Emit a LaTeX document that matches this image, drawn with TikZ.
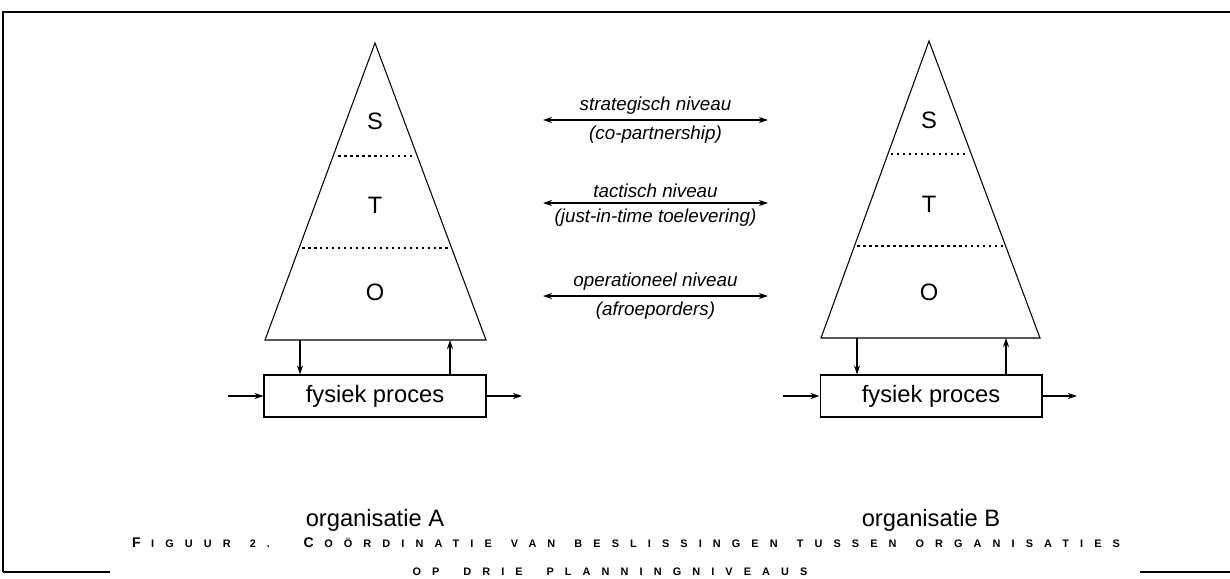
\documentclass[tikz,border=0pt]{standalone}
\usepackage{fontspec}
\setmainfont{Liberation Sans}
\usepackage{tikz}
\usetikzlibrary{arrows.meta,positioning,calc}
\newfontfamily\capfont[LetterSpace=102]{Liberation Sans Bold}
\newcommand{\capbig}{\fontsize{8}{9}\selectfont}
\newcommand{\capsmall}{\fontsize{6.2}{7}\selectfont}
\newcommand{\capinit}[1]{{\capbig #1}\kern 6pt}

\begin{document}
\begin{tikzpicture}[x=0.02cm, y=-0.02cm, line width=0.6pt,
  every node/.style={font=\fontsize{13.5}{16}\selectfont},
  procbox/.style={draw, minimum width=4.44cm, minimum height=0.84cm, inner sep=0pt},
  lvlline/.style={line width=1.4pt, dash pattern=on 1.4pt off 2pt},
  flow/.style={-{Stealth[length=1.8mm,width=1.2mm]}},
  link/.style={{Stealth[length=1.8mm,width=1.2mm]}-{Stealth[length=1.8mm,width=1.2mm]}},
  lbl/.style={font=\fontsize{10.7}{12}\selectfont\itshape, inner sep=1pt}]
\useasboundingbox (0,0) rectangle (1230,578);
% frame
\draw (3,572) -- (3,12) -- (1230,12);
\draw (3,572) -- (110,572);
\draw (1140,572) -- (1230,572);
% organisatie A
\coordinate (A-top) at (375,43);
\coordinate (A-bl) at (265,340);
\coordinate (A-br) at (486,340);
\draw (A-bl) -- (A-top) -- (A-br) -- cycle;
\draw[lvlline] ($(A-top)!0.38!(A-bl)+(5,0)$) -- ($(A-top)!0.38!(A-br)+(-3,0)$);
\draw[lvlline] ($(A-top)!0.69!(A-bl)+(3,0)$) -- ($(A-top)!0.69!(A-br)+(-3,0)$);
\node (A-s) at (375,121) {S};
\node (A-t) at (375,205) {T};
\node (A-o) at (375,292) {O};
\node[procbox] (A-box) at (375,396) {fysiek proces};
\coordinate (A-in) at (228,396);
\coordinate (A-out) at (522,396);
\coordinate (A-down) at (300,340);
\coordinate (A-up) at (450,340);
\draw[flow] (A-in) -- (A-box);
\draw[flow] (A-box) -- (A-out);
\draw[flow] (A-down) -- (A-down |- A-box.north);
\draw[flow] (A-box.north -| A-up) -- (A-up);
\node[below=1.7cm of A-box] (A-name) {organisatie A};
% organisatie B
\coordinate (B-top) at (929,41);
\coordinate (B-bl) at (821,338);
\coordinate (B-br) at (1040,338);
\draw (B-bl) -- (B-top) -- (B-br) -- cycle;
\draw[lvlline] ($(B-top)!0.38!(B-bl)+(3,0)$) -- ($(B-top)!0.38!(B-br)+(-3,0)$);
\draw[lvlline] ($(B-top)!0.69!(B-bl)+(3,0)$) -- ($(B-top)!0.69!(B-br)+(-3,0)$);
\node (B-s) at (929,120) {S};
\node (B-t) at (929,204) {T};
\node (B-o) at (929,292) {O};
\node[procbox] (B-box) at (931,396) {fysiek proces};
\coordinate (B-in) at (783,396);
\coordinate (B-out) at (1077,396);
\coordinate (B-down) at (857,338);
\coordinate (B-up) at (1006,338);
\draw[flow] (B-in) -- (B-box);
\draw[flow] (B-box) -- (B-out);
\draw[flow] (B-down) -- (B-down |- B-box.north);
\draw[flow] (B-box.north -| B-up) -- (B-up);
\node[below=1.7cm of B-box] (B-name) {organisatie B};
% niveaus
\coordinate (s-l) at (543,120);
\coordinate (s-r) at (768,120);
\coordinate (t-l) at (543,203);
\coordinate (t-r) at (768,203);
\coordinate (o-l) at (543,296);
\coordinate (o-r) at (768,296);
\draw[link] (s-l) -- node[lbl,above=2pt] (s-up) {strategisch niveau} node[lbl,below=2pt] (s-dn) {(co-partnership)} (s-r);
\draw[link] (t-l) -- node[lbl,above=2pt] (t-up) {tactisch niveau} node[lbl,below=2pt] (t-dn) {(just-in-time toelevering)} (t-r);
\draw[link] (o-l) -- node[lbl,above=2pt] (o-up) {operationeel niveau} node[lbl,below=2pt] (o-dn) {(afroeporders)} (o-r);
% bijschrift
\node[inner sep=0pt] (cap1) at (626,543) {\capfont\makebox[19.76cm][s]{\capinit{F}\capsmall IGUUR 2. \capinit{C}\capsmall OÖRDINATIE VAN BESLISSINGEN TUSSEN ORGANISATIES}};
\node[inner sep=0pt] (cap2) at (610,572) {\capfont\makebox[7.9cm][s]{\capsmall OP DRIE PLANNINGNIVEAUS}};
\end{tikzpicture}
\end{document}
